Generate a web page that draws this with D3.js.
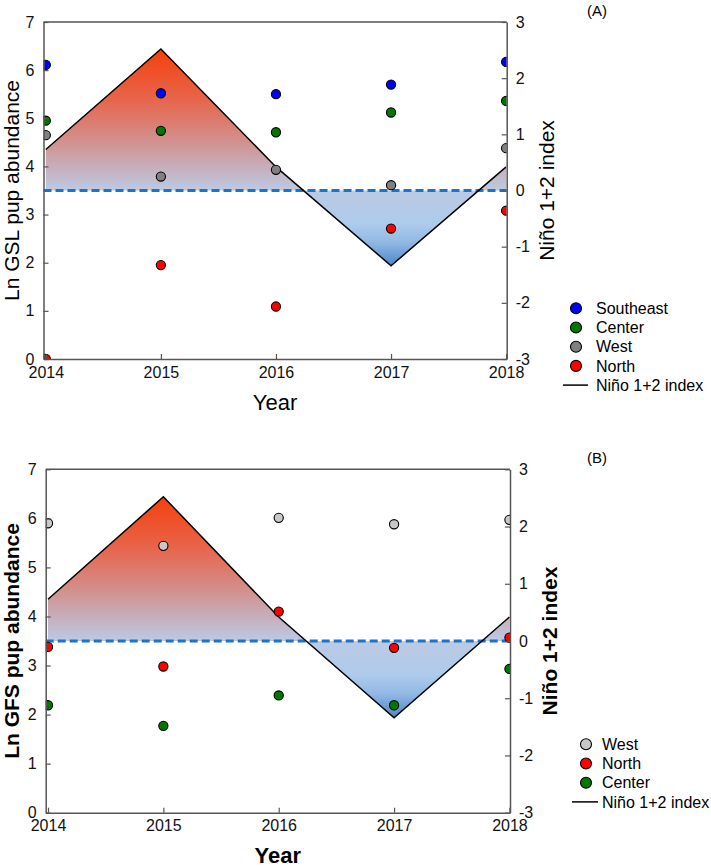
<!DOCTYPE html>
<html>
<head>
<meta charset="utf-8">
<script src="https://cdn.jsdelivr.net/npm/d3@7"></script>
<style>
  html, body { margin: 0; padding: 0; background: #fff; }
  svg { display: block; font-family: "Liberation Sans", Arial, sans-serif; }
</style>
</head>
<body>
<svg id="chart" width="711" height="867"></svg>
<script>
// ---------- data ----------
const years = [2014, 2015, 2016, 2017, 2018];
const nino = [0.73, 2.52, 0.42, -1.34, 0.42];

// Panel A (GSL)
const gslSoutheast = [6.11, 5.52, 5.50, 5.70, 6.17];
const gslCenter    = [4.95, 4.74, 4.71, 5.12, 5.36];
const gslWest      = [4.65, 3.79, 3.93, 3.61, 4.38];
const gslNorth     = [0.00, 1.95, 1.09, 2.71, 3.08];

// Panel B (GFS)
const gfsWest   = [5.90, 5.44, 6.01, 5.88, 5.97];
const gfsNorth  = [3.38, 2.98, 4.10, 3.36, 3.57];
const gfsCenter = [2.19, 1.77, 2.39, 2.19, 2.93];

const leftTicks = [0, 1, 2, 3, 4, 5, 6, 7];
const rightTicks = [-3, -2, -1, 0, 1, 2, 3];
const yearTicks = [2014, 2015, 2016, 2017, 2018];

const svg = d3.select("#chart");
const defs = svg.append("defs");
const fmt = d => String(d);

function drawPanel(cfg) {
  const { id, left, right, top, bottom, series, yLabel, labelWeight, labelSize, yearLabelY, panelTag, tagY, legendX, legendTextX, legendY0, legendLineX0, legendLineX1 } = cfg;

  const x = d3.scaleLinear().domain([2013.98, 2018.005]).range([left, right]);
  const yL = d3.scaleLinear().domain([0, 7]).range([bottom, top]);
  const yR = d3.scaleLinear().domain([-3, 3]).range([bottom, top]);

  // gradient
  const maxN = d3.max(nino), minN = d3.min(nino);
  const zeroOff = maxN / (maxN - minN);
  const grad = defs.append("linearGradient")
    .attr("id", "grad" + id)
    .attr("gradientUnits", "userSpaceOnUse")
    .attr("x1", 0).attr("x2", 0)
    .attr("y1", yR(maxN)).attr("y2", yR(minN));
  [
    [0, "#f5400c"],
    [zeroOff * 0.35, "#e7644a"],
    [zeroOff * 0.65, "#d2908e"],
    [zeroOff, "#bccae3"],
    [zeroOff + (1 - zeroOff) * 0.45, "#adcbec"],
    [zeroOff + (1 - zeroOff) * 0.7, "#90b7e3"],
    [1, "#4a86cc"]
  ].forEach(([o, c]) => grad.append("stop").attr("offset", o).attr("stop-color", c));

  const clip = defs.append("clipPath").attr("id", "clip" + id);
  clip.append("rect").attr("x", left).attr("y", top).attr("width", right - left).attr("height", bottom - top);

  const g = svg.append("g");
  const plot = g.append("g").attr("clip-path", `url(#clip${id})`);

  const pts = years.map((yr, i) => ({ yr, v: nino[i] }));
  const area = d3.area()
    .x(d => Math.min(Math.max(x(d.yr), left), right))
    .y0(yR(0))
    .y1(d => yR(d.v));
  plot.append("path").datum(pts).attr("d", area).attr("fill", `url(#grad${id})`);

  // zero dashed line
  plot.append("line")
    .attr("x1", left).attr("x2", right)
    .attr("y1", yR(0)).attr("y2", yR(0))
    .attr("stroke", "#1b74c9").attr("stroke-width", 3)
    .attr("stroke-dasharray", "8,4");

  const line = d3.line()
    .x(d => Math.min(Math.max(x(d.yr), left), right))
    .y(d => yR(d.v));
  plot.append("path").datum(pts).attr("d", line)
    .attr("fill", "none").attr("stroke", "#000").attr("stroke-width", 1.5);

  // dots
  series.forEach(s => {
    plot.selectAll(null).data(s.values).enter().append("circle")
      .attr("cx", (d, i) => x(years[i]))
      .attr("cy", d => yL(d))
      .attr("r", 4.6)
      .attr("fill", s.color)
      .attr("stroke", "#000").attr("stroke-width", 1.1);
  });

  // axes (ticks inward)
  const axL = d3.axisLeft(yL).tickValues(leftTicks).tickFormat(fmt).tickSizeInner(-5).tickSizeOuter(0).tickPadding(9);
  const axR = d3.axisRight(yR).tickValues(rightTicks).tickFormat(fmt).tickSizeInner(-5).tickSizeOuter(0).tickPadding(9);
  const axB = d3.axisBottom(x).tickValues(yearTicks).tickFormat(fmt).tickSizeInner(-5).tickSizeOuter(0).tickPadding(9);

  const styleAxis = sel => {
    sel.select(".domain").attr("stroke", "#555").attr("stroke-width", 1.5);
    sel.selectAll(".tick line").attr("stroke", "#555").attr("stroke-width", 1.2);
    sel.selectAll(".tick text").attr("fill", "#111").style("font-size", "16px").style("font-family", "'Liberation Sans', Arial, sans-serif");
  };
  g.append("g").attr("transform", `translate(${left},0)`).call(axL).call(styleAxis);
  g.append("g").attr("transform", `translate(${right},0)`).call(axR).call(styleAxis);
  const gb = g.append("g").attr("transform", `translate(0,${bottom})`).call(axB).call(styleAxis);
  gb.selectAll(".tick text").attr("dy", "0.6em");
  // top frame
  g.append("line").attr("x1", left).attr("x2", right).attr("y1", top).attr("y2", top)
    .attr("stroke", "#555").attr("stroke-width", 1.5);

  // axis labels
  const midY = (top + bottom) / 2;
  g.append("text")
    .attr("transform", `translate(19,${midY}) rotate(-90)`)
    .attr("text-anchor", "middle")
    .style("font-size", labelSize + "px").style("font-weight", labelWeight)
    .text(yLabel);
  g.append("text")
    .attr("transform", `translate(${right + 47},${midY}) rotate(-90)`)
    .attr("text-anchor", "middle")
    .style("font-size", labelSize + "px").style("font-weight", labelWeight)
    .text("Niño 1+2 index");
  g.append("text")
    .attr("x", (left + right) / 2).attr("y", yearLabelY)
    .attr("text-anchor", "middle")
    .style("font-size", (labelSize + 1) + "px").style("font-weight", labelWeight)
    .text("Year");

  // panel tag
  g.append("text").attr("x", 597).attr("y", tagY).attr("text-anchor", "middle")
    .style("font-size", "15px").text(panelTag);

  // legend
  const lg = g.append("g");
  series.forEach((s, i) => {
    const yy = legendY0 + i * 19.2;
    lg.append("circle").attr("cx", legendX).attr("cy", yy).attr("r", 5.5)
      .attr("fill", s.color).attr("stroke", "#000").attr("stroke-width", 1.1);
    lg.append("text").attr("x", legendTextX).attr("y", yy).attr("dy", "0.35em")
      .style("font-size", "16px").text(s.name);
  });
  const ly = legendY0 + series.length * 19.2;
  lg.append("line").attr("x1", legendLineX0).attr("x2", legendLineX1).attr("y1", ly).attr("y2", ly)
    .attr("stroke", "#000").attr("stroke-width", 1.5);
  lg.append("text").attr("x", legendTextX).attr("y", ly).attr("dy", "0.35em")
    .style("font-size", "16px").text("Niño 1+2 index");
}

drawPanel({
  id: "A", left: 43.5, right: 506.7, top: 22, bottom: 359,
  series: [
    { name: "Southeast", color: "#0000ff", values: gslSoutheast },
    { name: "Center", color: "#007800", values: gslCenter },
    { name: "West", color: "#808080", values: gslWest },
    { name: "North", color: "#ff0000", values: gslNorth }
  ],
  yLabel: "Ln GSL pup abundance", labelWeight: "normal", labelSize: 21,
  yearLabelY: 410, panelTag: "(A)", tagY: 16,
  legendX: 576, legendTextX: 596, legendY0: 308.3, legendLineX0: 563, legendLineX1: 588
});

drawPanel({
  id: "B", left: 45.7, right: 510, top: 469.3, bottom: 812.7,
  series: [
    { name: "West", color: "#c8c8c8", values: gfsWest },
    { name: "North", color: "#ff0000", values: gfsNorth },
    { name: "Center", color: "#007800", values: gfsCenter }
  ],
  yLabel: "Ln GFS pup abundance", labelWeight: "bold", labelSize: 21,
  yearLabelY: 863, panelTag: "(B)", tagY: 463,
  legendX: 586, legendTextX: 602, legendY0: 744.3, legendLineX0: 572, legendLineX1: 598
});
</script>
</body>
</html>
